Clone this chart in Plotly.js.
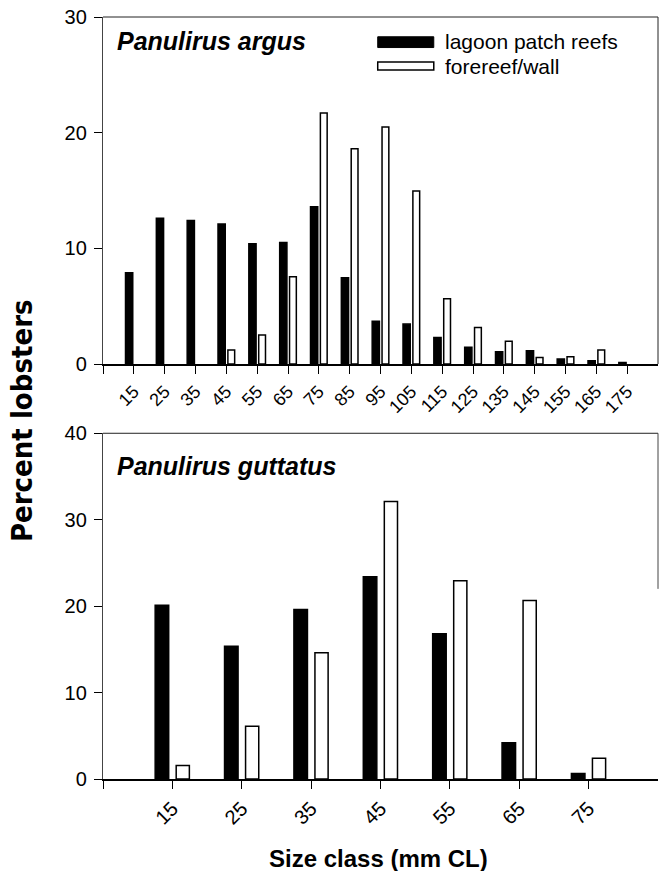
<!DOCTYPE html>
<html>
<head>
<meta charset="utf-8">
<script src="https://cdn.plot.ly/plotly-3.0.1.min.js"></script>
<style>html,body{margin:0;padding:0;background:#fff;}#chart{width:661px;height:871px;}</style>
</head>
<body>
<div id="chart"></div>
<script>
// ---- data ----
const argusSizes = [15,25,35,45,55,65,75,85,95,105,115,125,135,145,155,165,175];
const argusLagoon = [7.9,12.6,12.4,12.1,10.4,10.5,13.6,7.45,3.7,3.45,2.3,1.45,1.05,1.15,0.43,0.29,0.14];
const argusFore = [0,0,0,1.22,2.5,7.55,21.7,18.6,20.5,14.95,5.65,3.15,1.97,0.57,0.63,1.21,0];
const argusTickVals = [5,15,25,35,45,55,65,75,85,95,105,115,125,135,145,155,165,175];
const argusTickText = ['','15','25','35','45','55','65','75','85','95','105','115','125','135','145','155','165','175'];

const guttSizes = [15,25,35,45,55,65,75];
const guttLagoon = [20.1,15.35,19.6,23.4,16.8,4.2,0.65];
const guttFore = [1.55,6.1,14.6,32.1,22.95,20.65,2.4];
const guttTickVals = [5,15,25,35,45,55,65,75];
const guttTickText = ['','15','25','35','45','55','65','75'];

const seriesNames = ['lagoon patch reefs','forereef/wall'];
const speciesNames = ['Panulirus argus','Panulirus guttatus'];

const FONT = 'Liberation Sans, Arial, sans-serif';
const lineStyle = {color:'#000', width:1.5};
const hideZero = v => (v === 0 ? null : v);

const traces = [
  {type:'bar', x:argusSizes, y:argusLagoon.map(hideZero), name:seriesNames[0], xaxis:'x', yaxis:'y',
   width:2.35, offset:-2.7, marker:{color:'#000', line:lineStyle}, showlegend:false},
  {type:'bar', x:argusSizes, y:argusFore.map(hideZero), name:seriesNames[1], xaxis:'x', yaxis:'y',
   width:2.2, offset:0.5, marker:{color:'#fff', line:lineStyle}, showlegend:false},
  {type:'bar', x:guttSizes, y:guttLagoon.map(hideZero), name:seriesNames[0], xaxis:'x2', yaxis:'y2',
   width:1.95, offset:-2.48, marker:{color:'#000', line:lineStyle}, showlegend:false},
  {type:'bar', x:guttSizes, y:guttFore.map(hideZero), name:seriesNames[1], xaxis:'x2', yaxis:'y2',
   width:1.9, offset:0.55, marker:{color:'#fff', line:lineStyle}, showlegend:false}
];

const tickFont = {family:FONT, size:20, color:'#000'};

const commonX = {showline:true, linecolor:'#000', linewidth:2, ticks:'outside', ticklen:8,
  tickwidth:1, tickcolor:'#000', tickangle:-45, showgrid:false, zeroline:false,
  tickmode:'array'};
const commonY = {showline:true, linecolor:'#444', linewidth:1.2, ticks:'outside', ticklen:8,
  tickwidth:1, tickcolor:'#000', showgrid:false, zeroline:false, tickfont:tickFont, dtick:10, ticklabelstandoff:3};

const layout = {
  width:661, height:871,
  margin:{l:103, r:3, t:17, b:92},
  paper_bgcolor:'#fff', plot_bgcolor:'#fff',
  barmode:'overlay',
  showlegend:false,
  xaxis:Object.assign({}, commonX, {anchor:'y', domain:[0,1], range:[5,185], tickvals:argusTickVals, ticktext:argusTickText,
    tickfont:{family:FONT, size:18, color:'#000'}}),
  yaxis:Object.assign({}, commonY, {anchor:'x', domain:[0.5446,1], range:[0,30]}),
  xaxis2:Object.assign({}, commonX, {anchor:'y2', domain:[0,1], range:[5,85], tickvals:guttTickVals, ticktext:guttTickText,
    tickfont:{family:FONT, size:20, color:'#000'}}),
  yaxis2:Object.assign({}, commonY, {anchor:'x2', domain:[0,0.4537], range:[0,40]}),
  shapes:[
    // frame top panel
    {type:'line', xref:'x domain', yref:'y domain', x0:0, x1:1, y0:1, y1:1, line:{color:'#222', width:1}},
    {type:'line', xref:'x domain', yref:'y domain', x0:1, x1:1, y0:0, y1:1, line:{color:'#222', width:1}},
    // frame bottom panel
    {type:'line', xref:'x2 domain', yref:'y2 domain', x0:0, x1:1, y0:1, y1:1, line:{color:'#222', width:1}},
    {type:'line', xref:'x2 domain', yref:'y2 domain', x0:1, x1:1, y0:0.55, y1:1, line:{color:'#444', width:1}},
    // legend swatches
    {type:'rect', xref:'x domain', yref:'y domain', x0:0.495, x1:0.596, y0:0.912, y1:0.943, fillcolor:'#000', line:{color:'#000', width:1}},
    {type:'rect', xref:'x domain', yref:'y domain', x0:0.495, x1:0.596, y0:0.847, y1:0.870, fillcolor:'#fff', line:{color:'#000', width:1.5}}
  ],
  annotations:[
    {xref:'x domain', yref:'y domain', x:0.022, y:0.932, xanchor:'left', yanchor:'middle', showarrow:false,
     text:'<b><i>'+speciesNames[0]+'</i></b>', font:{family:FONT, size:25, color:'#000'}},
    {xref:'x2 domain', yref:'y2 domain', x:0.022, y:0.905, xanchor:'left', yanchor:'middle', showarrow:false,
     text:'<b><i>'+speciesNames[1]+'</i></b>', font:{family:FONT, size:25, color:'#000'}},
    {xref:'x domain', yref:'y domain', x:0.612, y:0.9294, xanchor:'left', yanchor:'middle', showarrow:false,
     text:seriesNames[0], font:{family:FONT, size:21, color:'#000'}},
    {xref:'x domain', yref:'y domain', x:0.612, y:0.8573, xanchor:'left', yanchor:'middle', showarrow:false,
     text:seriesNames[1], font:{family:FONT, size:21, color:'#000'}},
    {xref:'paper', yref:'paper', x:-0.146, y:0.471, xanchor:'center', yanchor:'middle', showarrow:false, textangle:-90,
     text:'<b>Percent lobsters</b>', font:{family:'Liberation Sans Narrow, DejaVu Sans Condensed, sans-serif', size:29, color:'#000'}},
    {xref:'paper', yref:'paper', x:0.4955, y:-0.1037, xanchor:'center', yanchor:'middle', showarrow:false,
     text:'<b>Size class (mm CL)</b>', font:{family:FONT, size:24, color:'#000'}}
  ]
};

Plotly.newPlot('chart', traces, layout, {displayModeBar:false, staticPlot:true});
</script>
</body>
</html>
